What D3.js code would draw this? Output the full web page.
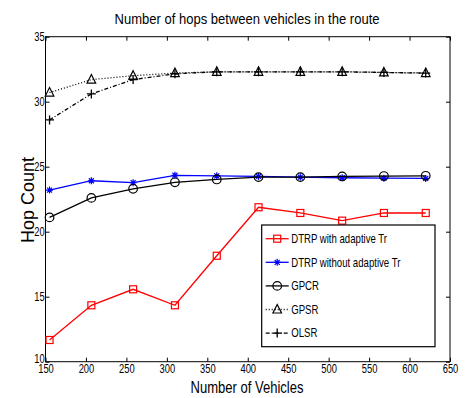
<!DOCTYPE html>
<html>
<head>
<meta charset="utf-8">
<script src="https://cdn.jsdelivr.net/npm/d3@7"></script>
<style>
  body { margin: 0; background: #fff; }
  text { font-family: "Liberation Sans", Arial, sans-serif; }
</style>
</head>
<body>
<div id="chart"></div>
<script>
// chart data
var vehicles = [155, 206.7, 258.3, 310, 361.7, 413.3, 465, 516.7, 568.3, 620];
var dtrpAdaptive = [11.67, 14.34, 15.57, 14.34, 18.15, 21.88, 21.44, 20.85, 21.44, 21.44];
var dtrpNoAdaptive = [23.2, 23.92, 23.77, 24.34, 24.3, 24.25, 24.2, 24.15, 24.12, 24.1];
var gpcr = [21.1, 22.6, 23.3, 23.8, 24.02, 24.2, 24.2, 24.25, 24.28, 24.3];
var gpsr = [30.7, 31.7, 32.0, 32.2, 32.3, 32.3, 32.3, 32.3, 32.25, 32.2];
var olsr = [28.6, 30.6, 31.7, 32.15, 32.3, 32.3, 32.3, 32.3, 32.25, 32.2];
var xTicks = [150, 200, 250, 300, 350, 400, 450, 500, 550, 600, 650];
var yTicks = [10, 15, 20, 25, 30, 35];

var svgWidth = 466, svgHeight = 398;
var margin = {top: 36.7, right: 16, bottom: 36.3, left: 45.5};
var width = svgWidth - margin.left - margin.right;
var height = svgHeight - margin.top - margin.bottom;

var svg = d3.select("#chart").append("svg")
  .attr("width", svgWidth)
  .attr("height", svgHeight);

var g = svg.append("g")
  .attr("transform", `translate(${margin.left}, ${margin.top})`);

var x = d3.scaleLinear().domain([150, 650]).range([0, width]);
var y = d3.scaleLinear().domain([10, 35]).range([height, 0]);

// axes with inward ticks on all four sides, narrow tick labels
function styleAxis(sel) {
  sel.select(".domain").remove();
  sel.selectAll("line").attr("stroke", "#000");
  sel.selectAll("text")
    .attr("font-size", "12px")
    .attr("fill", "#000")
    .attr("transform", "scale(0.78,1)");
}
g.append("g").attr("transform", `translate(0,${height})`)
  .call(d3.axisBottom(x).tickValues(xTicks).tickSizeInner(-4).tickSizeOuter(0).tickPadding(3))
  .call(styleAxis);
g.append("g")
  .call(d3.axisTop(x).tickValues(xTicks).tickSizeInner(-4).tickSizeOuter(0).tickFormat(""))
  .call(styleAxis);
var yAxisG = g.append("g")
  .call(d3.axisLeft(y).tickValues(yTicks).tickSizeInner(-4).tickSizeOuter(0).tickPadding(1))
  .call(styleAxis);
// lift the lowest label a touch so it clears the "150" below it
yAxisG.selectAll(".tick text").filter(d => d === 10).attr("dy", "0.1em");
g.append("g").attr("transform", `translate(${width},0)`)
  .call(d3.axisRight(y).tickValues(yTicks).tickSizeInner(-4).tickSizeOuter(0).tickFormat(""))
  .call(styleAxis);

g.append("rect")
  .attr("width", width).attr("height", height)
  .attr("fill", "none").attr("stroke", "#000").attr("stroke-width", 1);

// series
var series = [
  {name: "DTRP with adaptive Tr", values: dtrpAdaptive, color: "#ff0000", dash: null, marker: "square"},
  {name: "DTRP without adaptive Tr", values: dtrpNoAdaptive, color: "#0000ff", dash: null, marker: "star"},
  {name: "GPCR", values: gpcr, color: "#000", dash: null, marker: "circle"},
  {name: "GPSR", values: gpsr, color: "#000", dash: "1,2", marker: "triangle"},
  {name: "OLSR", values: olsr, color: "#000", dash: "4,2,1,2", marker: "plus"}
];

var line = d3.line().x(d => x(d[0])).y(d => y(d[1]));

function drawMarker(sel, type, color) {
  if (type === "square") {
    sel.append("rect").attr("x", -3.5).attr("y", -3.5).attr("width", 7).attr("height", 7)
      .attr("fill", "none").attr("stroke", color).attr("stroke-width", 1.2);
  } else if (type === "circle") {
    sel.append("circle").attr("r", 4.3)
      .attr("fill", "none").attr("stroke", color).attr("stroke-width", 1.2);
  } else if (type === "triangle") {
    sel.append("path").attr("d", "M0,-5L4.3,3.5L-4.3,3.5Z")
      .attr("fill", "none").attr("stroke", color).attr("stroke-width", 1.2);
  } else if (type === "plus") {
    sel.append("path").attr("d", "M-4.5,0H4.5M0,-4.5V4.5")
      .attr("stroke", color).attr("stroke-width", 1.3);
  } else if (type === "star") {
    sel.append("path").attr("d", "M-3.5,0H3.5M0,-3.5V3.5M-2.5,-2.5L2.5,2.5M-2.5,2.5L2.5,-2.5")
      .attr("stroke", color).attr("stroke-width", 1.2);
  }
}

series.forEach(function(s) {
  var pts = vehicles.map((v, i) => [v, s.values[i]]);
  g.append("path").datum(pts)
    .attr("d", line)
    .attr("fill", "none")
    .attr("stroke", s.color)
    .attr("stroke-width", 1.3)
    .attr("stroke-dasharray", s.dash);
  g.selectAll(null).data(pts).enter().append("g")
    .attr("transform", d => `translate(${x(d[0])},${y(d[1])})`)
    .each(function() { drawMarker(d3.select(this), s.marker, s.color); });
});

// legend
var legend = svg.append("g").attr("transform", "translate(261.7,225)");
legend.append("rect")
  .attr("width", 173.3).attr("height", 121.7)
  .attr("fill", "#fff").attr("stroke", "#000").attr("stroke-width", 1.2);
series.forEach(function(s, i) {
  var ly = 13.7 + i * 23.6;
  legend.append("line")
    .attr("x1", 4).attr("x2", 27).attr("y1", ly).attr("y2", ly)
    .attr("stroke", s.color).attr("stroke-width", 1.3)
    .attr("stroke-dasharray", s.dash);
  drawMarker(legend.append("g").attr("transform", `translate(15.5,${ly})`), s.marker, s.color);
  legend.append("text")
    .attr("transform", `translate(29.5,${ly}) scale(0.8,1)`)
    .attr("dy", "0.35em")
    .attr("font-size", "12px")
    .text(s.name);
});

// titles
svg.append("text")
  .attr("x", 247).attr("y", 24)
  .attr("text-anchor", "middle")
  .attr("font-size", "15px")
  .attr("textLength", 265).attr("lengthAdjust", "spacingAndGlyphs")
  .text("Number of hops between vehicles in the route");
svg.append("text")
  .attr("x", 247).attr("y", 393)
  .attr("text-anchor", "middle")
  .attr("font-size", "17px")
  .attr("textLength", 113).attr("lengthAdjust", "spacingAndGlyphs")
  .text("Number of Vehicles");
svg.append("text")
  .attr("transform", "translate(34,200) rotate(-90)")
  .attr("text-anchor", "middle")
  .attr("font-size", "18px")
  .text("Hop Count");
</script>
</body>
</html>
